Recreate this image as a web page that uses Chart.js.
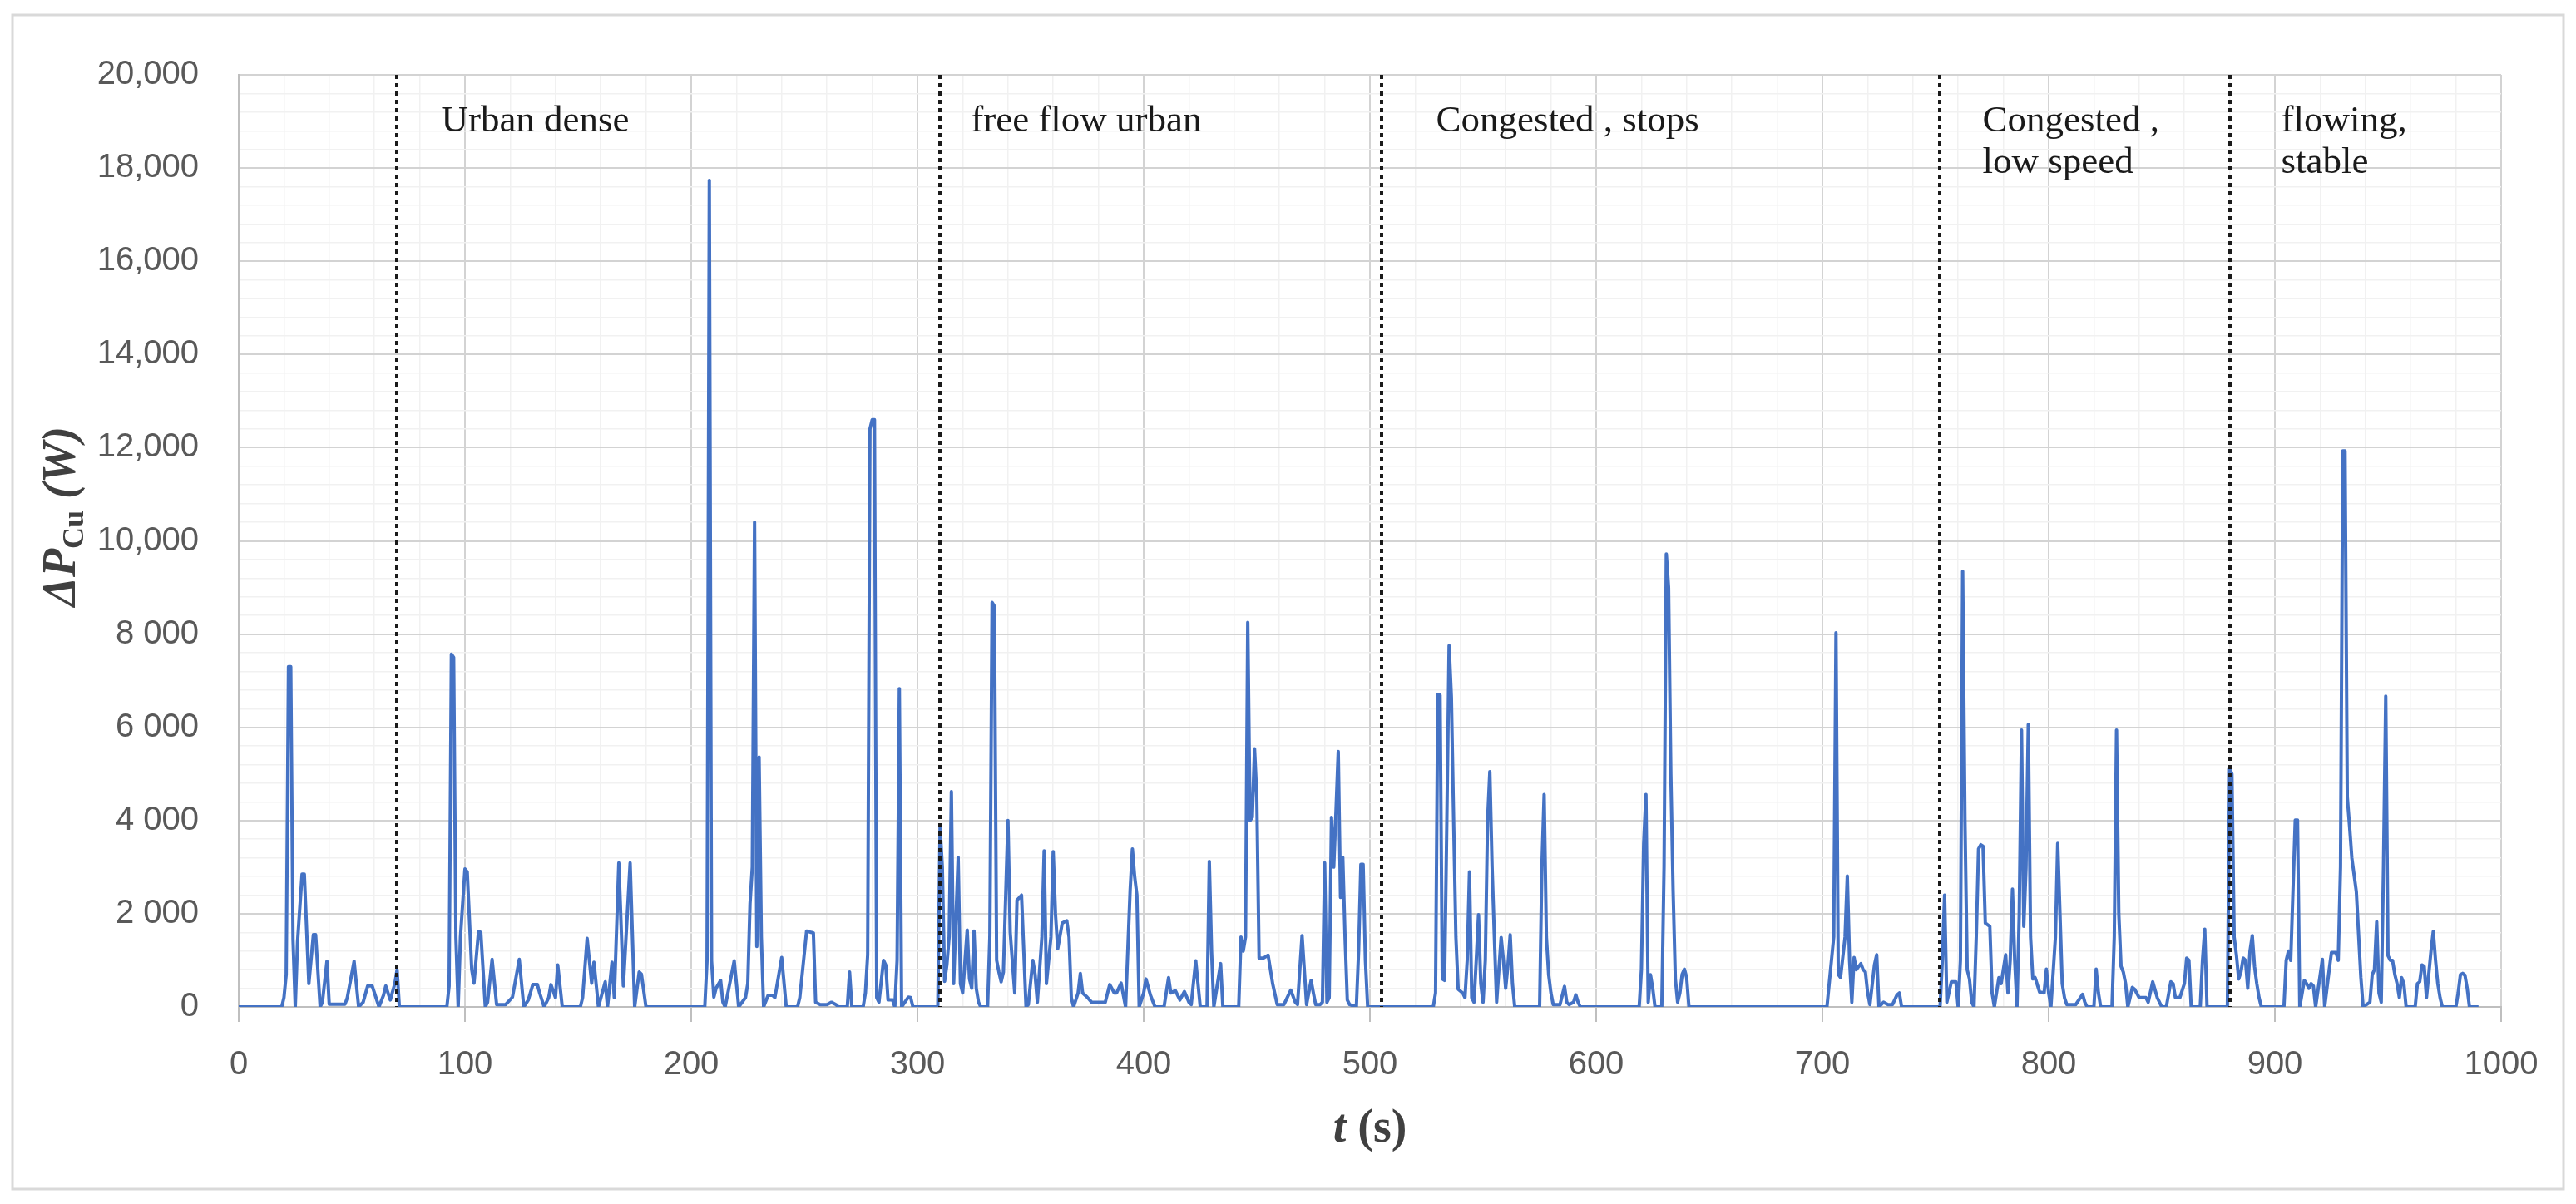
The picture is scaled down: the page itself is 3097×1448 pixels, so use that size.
<!DOCTYPE html>
<html><head><meta charset="utf-8">
<script src="https://cdn.jsdelivr.net/npm/chart.js@4"></script>
<style>html,body{margin:0;padding:0;background:#fff;}canvas{display:block;}</style>
</head><body>
<canvas id="c" width="3097" height="1448"></canvas>
<script>
// ---- data (time in s, copper loss in W) ----
const times = [
0,19,20,21,22,23,24,25,26,28,
29,31,33,34,36,37,39,40,47,48,
51,53,55,57,59,60,62,64,65,67,
69,70,71,92,93,94,95,96,97,98,
100,101,103,104,106,107,109,110,112,114,
118,121,124,126,128,130,132,133,135,137,
138,140,141,143,151,152,154,156,157,159,
162,163,165,166,168,170,173,175,177,178,
180,206,207,208,209,210,211,213,214,215,
219,221,224,225,226,227,228,229,230,231,
232,234,236,237,240,242,247,248,251,253,
254,255,257,260,262,264,265,269,270,271,
276,277,278,279,280,281,282,283,285,286,
287,289,290,291,292,293,296,297,298,309,
310,311,312,313,314,315,316,318,319,320,
322,323,324,325,326,327,328,331,332,333,
334,335,336,337,338,340,341,343,344,346,
348,349,351,352,353,355,356,357,359,360,
361,362,364,366,367,368,369,371,372,373,
375,377,383,385,387,388,390,392,394,395,
396,397,398,400,401,403,405,409,411,412,
414,416,418,420,421,423,425,428,429,430,
431,434,435,442,443,444,445,446,447,448,
449,450,451,453,455,457,459,462,465,467,
468,470,472,474,475,476,478,479,480,481,
482,483,484,485,486,487,488,489,490,491,
494,495,496,497,498,499,528,529,530,531,
532,533,534,535,536,537,538,539,541,542,
543,544,545,546,547,548,549,550,551,552,
553,554,555,556,557,558,559,560,561,562,
563,564,575,576,577,578,579,580,581,584,
586,587,588,590,591,592,593,619,620,621,
622,623,624,625,626,629,630,631,632,633,
634,635,636,637,638,639,640,641,702,705,
706,707,708,710,711,712,713,714,715,717,
718,719,720,721,723,724,725,727,729,731,
733,734,735,752,753,754,755,757,759,760,
761,762,763,764,765,766,767,768,769,770,
771,772,774,775,776,778,779,781,782,783,
784,785,786,787,788,789,790,791,792,793,
794,796,798,799,800,801,803,804,805,806,
807,808,812,815,816,817,820,821,822,823,
828,829,830,831,832,833,834,835,836,837,
838,840,843,844,846,848,850,852,854,855,
856,858,860,861,862,863,867,868,869,870,
879,880,881,882,883,884,885,886,887,888,
889,890,891,892,893,894,904,905,906,907,
908,909,910,911,913,914,915,916,917,918,
921,922,924,925,927,928,929,930,931,932,
933,934,936,938,939,942,943,944,945,946,
947,948,949,950,951,952,953,954,955,956,
957,958,962,963,964,965,966,967,969,970,
971,972,973,974,980,981,982,983,984,985,
986,990
];
const power = [
0,0,200,700,7300,7300,1450,0,1400,2850,
2850,500,1550,1550,0,100,980,60,60,200,
980,0,100,450,450,300,0,250,450,150,
500,800,0,0,450,7570,7500,1490,0,1490,
2960,2900,800,510,1620,1600,0,100,1020,50,
50,210,1020,0,150,480,480,300,0,200,
480,200,900,0,0,200,1470,510,960,0,
540,0,960,200,3090,450,3090,0,750,700,
0,0,1000,17735,990,210,400,570,100,0,
990,0,200,500,2220,3000,10400,1300,5360,1500,
0,250,250,200,1060,0,0,200,1630,1600,
1590,100,50,50,100,50,0,0,750,0,
0,300,1120,12400,12600,12600,200,100,1000,900,
150,150,0,1000,6830,0,210,200,0,0,
3850,3000,550,900,1500,4620,500,3210,500,300,
1650,600,400,1630,400,100,0,0,1500,8680,
8600,1000,750,540,750,4000,1600,300,2290,2400,
0,50,1000,700,100,1500,3350,500,1500,3330,
2000,1250,1800,1850,1500,200,0,300,720,300,
210,100,100,480,300,300,510,0,2500,3390,
2800,2400,0,300,600,250,0,0,630,300,
350,150,330,100,50,990,0,0,3120,1200,
0,930,0,0,1500,1200,1500,8250,4000,4070,
5540,4500,1050,1050,1110,500,50,50,360,100,
50,1530,50,570,300,50,50,100,3090,100,
200,4070,3000,4200,5480,2350,3210,1500,150,50,
0,1200,3060,3060,1000,0,0,300,6700,6690,
600,570,4000,7750,6650,4000,1500,380,300,200,
1000,2900,200,100,1000,1980,500,100,1000,4000,
5050,3000,1500,100,800,1490,1000,400,900,1550,
500,0,0,3000,4560,1500,690,300,50,50,
440,100,50,100,260,100,0,0,800,3500,
4560,100,690,400,0,0,3000,9720,9000,5000,
2500,600,100,300,700,810,630,0,0,1500,
8030,700,630,1500,2810,1000,100,1060,800,930,
800,750,300,50,900,1120,0,100,50,50,
260,300,0,0,1000,2400,100,540,540,0,
1000,9350,4000,800,600,100,0,1500,3390,3480,
3450,1800,1730,300,0,630,500,1120,300,1000,
2530,1000,0,2000,5940,1730,3000,6060,1500,600,
630,320,300,810,300,0,1500,3510,2000,500,
200,50,50,270,100,0,0,810,300,0,
0,1500,5940,2000,870,750,500,0,200,420,
380,200,200,100,540,200,0,0,540,500,
200,200,500,1050,1000,0,0,1000,1670,0,
0,5110,5000,1500,1110,600,750,1050,1000,400,
1200,1530,870,500,200,0,0,1000,1200,1000,
2500,4010,4010,0,570,500,400,500,450,0,
1020,0,800,1170,1170,1000,3000,11930,11930,4500,
3880,3200,2470,630,0,100,690,800,1830,300,
100,3000,6670,1100,1000,1000,700,500,200,630,
500,0,0,500,540,900,870,200,1200,1620,
1000,500,200,0,0,300,690,720,680,400,
0,0
];

// ---- axes ----
const xTickValues = [0,100,200,300,400,500,600,700,800,900,1000];
const xTickLabels = ['0','100','200','300','400','500','600','700','800','900','1000'];
const yTickValues = [0,2000,4000,6000,8000,10000,12000,14000,16000,18000,20000];
const yTickLabels = ['0','2 000','4 000','6 000','8 000','10,000','12,000','14,000','16,000','18,000','20,000'];

// ---- driving regions ----
const regionBounds = [70, 310, 505, 752, 880];
const regionLabels = [['Urban dense'], ['free flow urban'], ['Congested , stops'], ['Congested ,', 'low speed'], ['flowing,', 'stable']];

const points = times.map((t, i) => ({x: t, y: power[i]}));

const TICK_FONT = {family: '"Liberation Sans", Arial, sans-serif', size: 40};
const isMajor = (v, step) => Math.abs(v / step - Math.round(v / step)) < 1e-6;

const framePlugin = {
  id: 'frame',
  beforeDraw(chart) {
    const c = chart.ctx;
    c.save();
    c.fillStyle = '#ffffff';
    c.fillRect(0, 0, chart.width, chart.height);
    c.strokeStyle = '#d9d9d9';
    c.lineWidth = 3;
    c.strokeRect(15, 18, 3067, 1412);
    c.restore();
  }
};

function drawRich(c, parts, x, y) {
  let total = 0;
  parts.forEach(p => { c.font = p.font; p.w = c.measureText(p.text).width; total += p.w; });
  let cx = x - total / 2;
  parts.forEach(p => { c.font = p.font; c.fillText(p.text, cx, y + (p.dy || 0)); cx += p.w; });
}

const regionPlugin = {
  id: 'regions',
  afterDatasetsDraw(chart, args, opts) {
    const c = chart.ctx, xs = chart.scales.x, area = chart.chartArea;
    c.save();
    c.strokeStyle = '#1a1a1a';
    c.lineWidth = 4;
    c.setLineDash([5, 5]);
    regionBounds.forEach(b => {
      const px = Math.round(xs.getPixelForValue(b));
      c.beginPath();
      c.moveTo(px, area.top);
      c.lineTo(px, area.bottom);
      c.stroke();
    });
    c.setLineDash([]);
    c.fillStyle = '#1a1a1a';
    c.font = '45px "Liberation Serif", "DejaVu Serif", serif';
    c.textAlign = 'left';
    c.textBaseline = 'alphabetic';
    regionLabels.forEach((lines, i) => {
      const px = xs.getPixelForValue(regionBounds[i]) + opts.offsets[i];
      lines.forEach((ln, j) => c.fillText(ln, px, opts.baseline + j * opts.lineGap));
    });
    c.restore();
  }
};

const titlePlugin = {
  id: 'axisTitles',
  afterDraw(chart) {
    const c = chart.ctx;
    c.save();
    c.fillStyle = '#404040';
    c.textAlign = 'left';
    c.textBaseline = 'alphabetic';
    const serif = '"Liberation Serif", "DejaVu Serif", serif';
    c.save();
    c.translate(90, 621);
    c.rotate(-Math.PI / 2);
    drawRich(c, [
      {text: '\u0394P', font: 'italic bold 56px ' + serif},
      {text: 'Cu', font: 'bold 36px ' + serif, dy: 10},
      {text: ' (W)', font: 'italic bold 56px ' + serif}
    ], 0, 0);
    c.restore();
    drawRich(c, [
      {text: 't', font: 'italic bold 56px ' + serif},
      {text: ' (s)', font: 'bold 56px ' + serif}
    ], chart.chartArea.left + (chart.chartArea.right - chart.chartArea.left) / 2, 1373);
    c.restore();
  }
};

new Chart(document.getElementById('c'), {
  type: 'line',
  data: {
    datasets: [{
      data: points,
      borderColor: '#4472C4',
      borderWidth: 4,
      borderJoinStyle: 'round',
      pointRadius: 0,
      tension: 0,
      fill: false
    }]
  },
  options: {
    responsive: false,
    animation: false,
    devicePixelRatio: 1,
    layout: {padding: {top: 90, right: 90, left: 0, bottom: 0}},
    plugins: {
      legend: {display: false},
      tooltip: {enabled: false},
      regions: {offsets: [53, 37, 66, 51, 62], baseline: 158, lineGap: 50}
    },
    scales: {
      x: {
        type: 'linear',
        min: 0, max: 1000,
        afterFit: s => { s.height = 237; },
        border: {color: '#bfbfbf', width: 2},
        grid: {
          color: ctx => (ctx.tick && isMajor(ctx.tick.value, 100)) ? '#d3d3d3' : '#f1f1f1',
          lineWidth: ctx => (ctx.tick && isMajor(ctx.tick.value, 100)) ? 2 : 1.5,
          tickColor: ctx => (ctx.tick && isMajor(ctx.tick.value, 100)) ? '#bfbfbf' : 'rgba(0,0,0,0)',
          tickLength: 18
        },
        ticks: {
          stepSize: 20,
          autoSkip: false,
          maxRotation: 0,
          maxTicksLimit: 1000,
          padding: 28,
          color: '#595959',
          font: TICK_FONT,
          callback: v => { const i = xTickValues.findIndex(t => Math.abs(t - v) < 1e-6); return i >= 0 ? xTickLabels[i] : ''; }
        }
      },
      y: {
        min: 0, max: 20000,
        afterFit: s => { s.width = 287; },
        border: {color: '#bfbfbf', width: 3},
        grid: {
          color: ctx => (ctx.tick && isMajor(ctx.tick.value, 2000)) ? '#d3d3d3' : '#f1f1f1',
          lineWidth: ctx => (ctx.tick && isMajor(ctx.tick.value, 2000)) ? 2 : 1.5,
          tickLength: 0
        },
        ticks: {
          stepSize: 400,
          autoSkip: false,
          maxTicksLimit: 1000,
          padding: 48,
          color: '#595959',
          font: TICK_FONT,
          callback: v => { const i = yTickValues.findIndex(t => Math.abs(t - v) < 1e-6); return i >= 0 ? yTickLabels[i] : ''; }
        }
      }
    }
  },
  plugins: [framePlugin, regionPlugin, titlePlugin]
});
</script>
</body></html>
